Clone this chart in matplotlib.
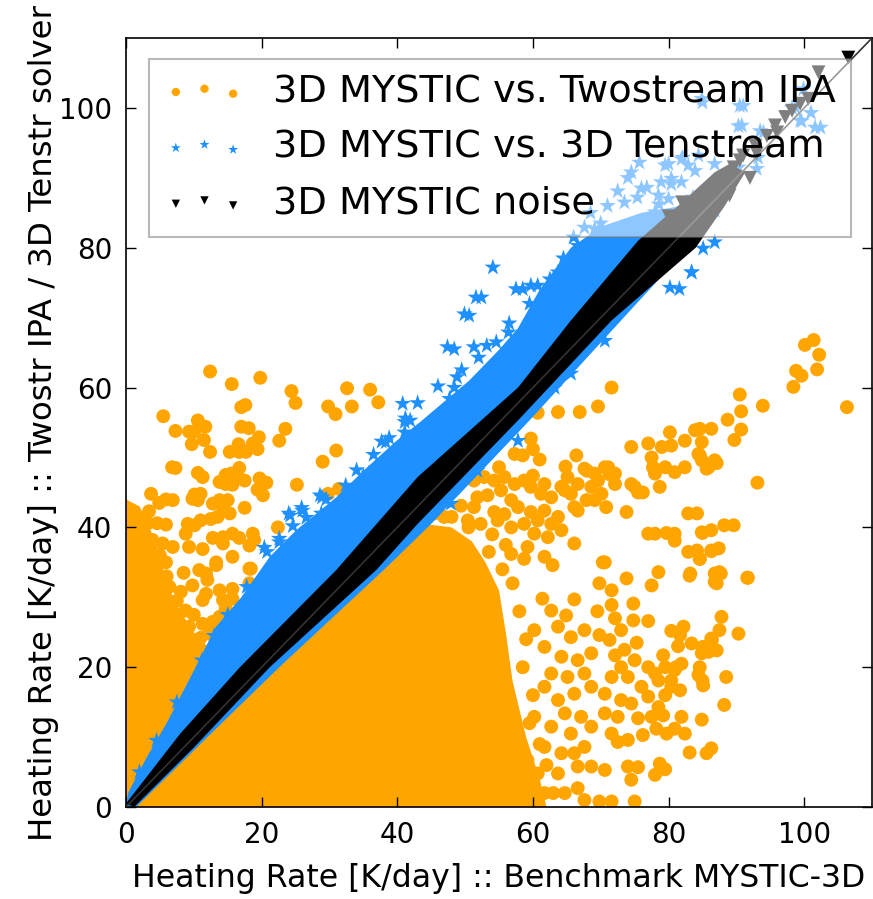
import numpy as np
import matplotlib
matplotlib.use("Agg")
import matplotlib.pyplot as plt

plt.rcParams['font.family'] = ['DejaVu Sans']

# --- data (K/day) ---

# orange: 3D MYSTIC vs. Twostream IPA, single points outside the saturated cores
orange_x = [12.4, 15.6, 19.8, 24.4, 25.0, 32.6, 36.0, 37.2, 29.8, 30.9, 33.3, 17.0, 17.6, 5.5, 10.6, 7.3,
            9.3, 10.1, 11.7, 17.0, 18.1, 23.5, 22.6, 19.6, 11.5, 9.7, 12.4, 15.3, 16.7, 17.7, 16.6, 18.7,
            19.4, 31.0, 29.0, 6.8, 7.3, 10.6, 11.3, 16.7, 14.7, 15.5, 13.8, 14.7, 15.7, 16.4, 17.5, 19.7,
            20.7, 19.4, 20.2, 25.2, 31.4, 29.8, 3.7, 10.1, 11.0, 9.8, 10.6, 5.9, 4.9, 6.9, 12.8, 14.3,
            13.8, 15.0, 15.3, 17.5, 3.4, 3.2, 4.6, 5.9, 9.1, 10.1, 11.0, 12.5, 13.5, 22.4, 8.8, 12.8,
            14.3, 15.7, 16.7, 18.7, 18.9, 2.4, 3.9, 5.4, 6.9, 9.3, 11.3, 14.3, 18.2, 15.7, 13.3, 18.4,
            3.9, 5.9, 10.8, 11.8, 13.3, 18.2, 9.8, 11.8, 13.8, 15.7, 18.2, 8.1, 6.4, 14.3, 15.7, 14.7,
            13.8, 11.3, 8.8, 6.9, 5.4, 9.3, 11.3, 12.3, 2.4, 1.4, 3.4, 1.9, 4.4, 2.9,
            4.5, 6.0, 7.5, 8.5, 10.0, 12.0, 7.0, 9.5, 11.0, 12.8, 5.0, 3.0, 1.5, 2.0, 4.0, 1.2,
            71.6, 69.6, 66.9, 63.7, 60.7, 59.7, 60.0, 61.0, 66.4, 64.8, 57.3, 58.5, 55.0, 67.6, 69.1, 71.1,
            72.1, 74.5, 77.0, 79.0, 80.4, 80.2, 82.4, 83.9, 84.6, 86.3, 84.9, 77.5, 77.7, 78.0, 79.5, 80.9,
            82.4, 84.4, 84.9, 85.9, 86.8, 75.0, 76.2, 78.7, 73.8, 77.0, 79.7, 80.9, 84.9, 82.9, 82.9, 84.6,
            86.3, 70.6, 66.1, 70.8, 66.6, 64.2, 65.1, 65.6, 66.6, 68.0, 68.6, 69.6, 70.1, 70.6, 71.3, 72.1,
            67.9, 69.1, 74.5, 75.5, 51.3, 52.8, 54.3, 55.8, 57.3, 58.7, 60.0, 61.7, 51.8, 53.3, 55.3, 56.8,
            59.7, 61.2, 62.7, 64.7, 49.4, 51.3, 54.3, 55.8, 57.8, 59.7, 61.7, 63.7, 66.1, 46.9, 50.4, 52.3,
            54.8, 56.8, 58.7, 60.7, 62.7, 64.2, 60.2, 62.2, 59.2, 56.8, 58.7, 61.7, 62.9,
            53.5, 55.5, 57.0, 58.0, 59.0, 58.5, 60.0, 59.5, 61.0, 62.0, 63.0, 54.0, 56.0, 45.5, 48.0, 50.5,
            101.4, 100.1, 102.2, 101.9, 98.8, 99.6, 98.4, 106.3, 93.9, 90.5, 90.7, 88.7, 90.7, 89.7, 84.6,
            87.1, 85.6, 93.1, 88.2, 85.0, 86.3, 84.6, 87.7, 87.1, 91.6,
            70.3, 73.8, 69.8, 71.6, 78.5, 77.5, 83.1, 86.8, 66.1, 61.4, 64.9, 69.5, 71.6, 72.1, 74.8, 74.8,
            77.0, 80.4, 82.2, 81.7, 86.3, 73.0, 75.3, 73.5, 69.8, 71.3, 79.2, 81.4, 83.4, 84.9, 85.9, 72.1,
            73.0, 75.0, 77.0, 78.0, 79.5, 80.9, 81.9, 84.4, 85.1, 71.6, 74.0, 76.0, 78.5, 80.4, 81.7, 70.6,
            73.0, 74.5, 77.0, 79.5, 78.5, 75.5, 77.5, 79.2, 81.9, 84.9, 72.5, 70.6, 71.6, 72.5, 74.0, 76.2,
            78.2, 79.7, 80.9, 82.4, 83.1, 85.6, 86.3, 74.0, 75.5, 74.5, 78.7, 79.5, 78.0, 67.6, 69.8, 71.6,
            75.0, 66.6, 68.6, 70.6, 66.1, 67.6,
            62.7, 63.7, 60.2, 65.6, 67.6, 68.6, 66.6, 64.2, 61.7, 62.7, 65.1, 67.6, 68.6, 66.1, 63.7, 61.7,
            64.7, 67.1, 68.6, 65.6, 62.7, 60.2, 61.7, 64.2, 66.6, 63.7, 60.7, 59.2, 61.7, 64.7,
            84.2, 86.3, 78.0, 80.9, 84.2, 87.4, 89.6, 88.2, 88.5, 90.3, 91.7, 87.5, 87.8, 86.4, 85.0, 87.1,
            86.8, 87.5, 83.2, 85.0, 84.6, 81.1, 80.4]
orange_y = [62.3, 60.5, 61.4, 59.5, 57.8, 59.9, 59.7, 57.9, 57.3, 56.2, 57.3, 57.2, 57.5, 55.9, 55.3, 53.8,
            53.7, 53.7, 54.4, 54.4, 54.2, 54.1, 52.4, 52.9, 52.5, 51.9, 50.8, 50.8, 50.8, 50.8, 51.9, 52.0,
            51.2, 51.0, 49.4, 48.6, 48.5, 47.8, 47.2, 48.5, 47.5, 47.7, 46.5, 46.2, 46.1, 47.1, 46.7, 47.0,
            46.4, 45.4, 44.6, 46.1, 45.5, 44.8, 44.8, 44.7, 44.8, 44.1, 43.9, 44.0, 43.5, 43.9, 43.4, 43.0,
            43.9, 43.9, 42.0, 42.8, 42.3, 40.6, 40.6, 40.4, 40.5, 40.3, 41.0, 41.2, 41.5, 40.0, 39.1, 38.5,
            38.6, 39.1, 38.5, 39.1, 38.2, 37.7, 38.2, 37.7, 37.2, 37.2, 36.9, 37.7, 37.4, 35.8, 35.0, 34.1,
            34.6, 35.0, 33.9, 33.4, 34.6, 34.1, 31.7, 30.5, 31.0, 31.2, 32.0, 30.8, 31.5, 29.6, 29.8, 28.4,
            27.2, 29.6, 28.1, 26.7, 28.6, 25.8, 26.2, 24.8, 32.4, 30.5, 29.1, 26.7, 25.3, 23.9,
            32.5, 33.0, 29.5, 33.5, 27.5, 32.5, 24.5, 23.8, 24.2, 26.5, 36.0, 35.0, 37.0, 34.5, 30.0, 40.5,
            60.0, 57.3, 56.5, 56.5, 56.4, 52.7, 51.2, 49.7, 50.3, 48.7, 50.5, 50.3, 48.6, 48.4, 47.7, 48.6,
            47.7, 51.5, 52.0, 51.5, 51.7, 53.6, 52.4, 53.9, 54.1, 54.1, 52.2, 50.0, 48.6, 47.7, 48.6, 47.9,
            48.6, 50.5, 49.6, 48.6, 49.6, 45.8, 45.0, 45.8, 42.2, 39.1, 39.2, 38.1, 39.3, 42.0, 36.5, 35.5,
            36.7, 35.0, 37.7, 42.9, 42.4, 45.8, 47.2, 44.8, 46.2, 48.1, 45.8, 46.7, 44.8, 48.6, 47.6, 46.2,
            43.9, 43.9, 46.2, 45.0, 46.7, 47.2, 46.7, 47.2, 46.2, 46.7, 47.4, 46.2, 44.3, 44.6, 45.3, 43.9,
            45.8, 44.8, 44.3, 45.3, 43.1, 42.9, 42.2, 41.9, 42.9, 42.2, 42.4, 41.5, 42.9, 41.5, 41.0, 40.5,
            41.0, 40.0, 40.5, 41.0, 40.5, 39.6, 39.1, 38.6, 37.2, 36.2, 35.5, 35.8, 34.6,
            36.5, 34.0, 32.0, 28.0, 24.0, 20.0, 16.0, 12.0, 9.0, 6.0, 2.0, 39.0, 37.5, 42.0, 41.5, 40.0,
            66.8, 66.1, 64.7, 62.6, 62.4, 61.7, 60.1, 57.2, 57.4, 59.0, 56.6, 55.4, 54.0, 52.5, 50.3,
            49.2, 48.4, 46.4, 40.3, 39.2, 36.6, 35.5, 33.4, 32.0, 32.8,
            35.0, 32.7, 32.0, 31.0, 33.6, 31.7, 33.1, 32.2, 29.7, 29.8, 27.4, 28.0, 28.9, 27.0, 29.1, 26.7,
            26.6, 25.2, 25.8, 24.6, 24.1, 25.3, 23.5, 22.5, 24.6, 23.9, 21.7, 23.0, 23.4, 22.0, 22.2, 21.7,
            20.0, 21.0, 20.0, 19.1, 20.0, 19.6, 20.5, 18.9, 17.4, 18.6, 18.6, 17.2, 18.1, 17.2, 16.7, 16.2,
            15.3, 14.8, 15.8, 16.0, 14.3, 12.7, 12.9, 13.1, 12.9, 12.5, 12.9, 13.4, 10.5, 9.3, 9.6, 10.3,
            11.2, 10.5, 11.2, 10.5, 7.8, 7.7, 8.4, 5.8, 5.7, 3.9, 6.2, 5.4, 4.6, 1.0, 0.8, 0.8,
            0.8, 2.7, 5.8, 5.3, 7.7, 8.6,
            28.1, 25.8, 25.3, 24.3, 25.3, 22.0, 21.0, 21.5, 22.9, 19.1, 18.6, 19.1, 17.2, 16.2, 15.3, 17.2,
            13.4, 12.9, 11.5, 10.5, 11.5, 12.9, 8.6, 7.7, 5.8, 4.8, 4.8, 6.7, 2.0, 2.0,
            42.0, 39.6, 39.1, 39.1, 36.7, 37.0, 40.3, 14.6, 18.6, 24.8, 32.8, 25.3, 27.2, 23.9, 22.9, 22.4,
            33.4, 33.6, 33.4, 18.1, 20.0, 20.0, 18.1]

# outlines of the saturated (fully covered) parts of the clouds
orange_core_a_x = [0.5, 38, 44, 48, 51, 53, 55, 56, 57, 59, 61, 62]
orange_core_a_y = [0, 38, 40.5, 40, 38, 35, 31, 25, 18, 10, 4, 0]
orange_core_b_x = [0, 0, 2, 3.5, 5, 6, 8, 10, 12, 4, 1]
orange_core_b_y = [0, 44, 43, 40, 36, 32, 28, 25, 23, 4, 0]

# blue: 3D MYSTIC vs. 3D Tenstream
blue_x = [40.8, 41.1, 41.1, 37.7, 35.0, 28.6, 25.9, 24.0, 28.8, 22.6, 20.4,
          52.4, 50.6, 58.5, 60.7, 48.4, 51.3, 52.0, 54.6, 56.4, 48.8, 48.4, 47.7, 41.9, 38.3, 35.8,
          28.9, 26.0, 24.2,
          54.1, 51.6, 49.9, 47.4, 57.5, 59.7, 63.7, 66.6, 67.6, 69.1, 72.5, 74.5, 75.7, 83.4, 80.2,
          70.6, 65.6, 63.2, 57.8, 51.8, 47.9, 81.6,
          84.9, 90.5, 98.7, 99.9, 101.6, 99.4, 90.8, 94.0, 93.0, 84.4, 82.9, 81.9, 79.5, 78.9, 80.4,
          78.5, 80.0, 81.9, 78.0, 79.5, 77.5, 80.9, 82.9, 86.8, 85.1, 83.4,
          85.0, 91.0, 90.3, 93.5, 98.2, 101.0, 102.4, 99.6, 80.0, 82.1, 83.9, 86.8, 90.3, 93.2, 75.4,
          76.8, 80.4, 74.0, 78.6, 83.6, 86.0, 86.8,
          20.8, 22.6, 24.6, 26.6, 29.5, 32.4, 34.0, 36.5, 38.8, 41.2, 43.0, 46.0, 49.5, 53.2, 56.5,
          59.5, 62.5, 64.5, 11.2, 13.0, 15.0, 17.8, 7.5, 4.5, 2.0,
          68.5, 71.0, 73.5, 76.0, 70.0, 66.0]
blue_y = [57.7, 55.1, 53.6, 52.3, 47.4, 44.6, 42.8, 42.0, 42.0, 37.9, 37.1,
          72.9, 70.3, 74.1, 74.6, 65.5, 65.8, 64.3, 66.5, 67.9, 61.5, 60.0, 58.4, 55.3, 52.2, 47.7,
          44.3, 42.4, 41.7,
          77.2, 72.9, 70.5, 65.8, 74.1, 74.6, 76.5, 80.3, 82.9, 82.7, 88.1, 90.8, 92.2, 76.5, 74.3,
          66.7, 62.0, 60.0, 52.4, 48.1, 43.4, 74.1,
          101.3, 100.3, 100.1, 102.7, 97.2, 98.2, 97.5, 96.5, 91.3, 93.2, 91.8, 92.7, 91.8, 89.4, 89.9,
          87.5, 87.0, 89.4, 85.1, 84.1, 83.2, 83.2, 85.1, 80.8, 79.9, 76.5,
          100.8, 100.3, 97.4, 96.7, 100.0, 99.3, 97.2, 98.1, 92.0, 92.9, 91.0, 92.0, 91.5, 92.9, 87.2,
          88.6, 89.1, 90.0, 86.2, 87.2, 88.1, 85.3,
          36.5, 38.4, 40.2, 41.4, 44.0, 46.0, 48.2, 50.4, 52.8, 55.6, 57.8, 60.2, 62.5, 66.0, 69.2,
          72.0, 75.5, 78.5, 21.0, 24.5, 27.5, 31.5, 15.0, 9.5, 5.0,
          85.0, 86.0, 86.5, 88.5, 83.5, 81.5]
blue_core_x = [0, 0.3, 3, 6, 10, 13.2, 17, 21.2, 25.1, 31, 35, 39.9, 43.4, 50.6, 54.9, 57.8, 61,
               65.6, 70, 76, 82, 86, 80, 73, 59.5, 45, 38, 22.6, 12, 1.5]
blue_core_y = [0, 2, 7, 12, 19.5, 25.7, 30, 35.8, 39.6, 44.3, 48.1, 52.4, 55.1, 61, 65.3, 68.5, 74,
               80, 83, 85, 86, 84, 77, 69.6, 55.3, 40.5, 33.9, 20, 10, 0]

# black: 3D MYSTIC noise
black_x = [106.5, 102.1, 100.6, 99.4, 98.2, 97.2, 95.7, 94.5, 92.8, 91.0, 89.6, 88.1, 86.8, 85.4,
           83.4, 90.5, 93.0, 96.0, 87.5, 84.0, 82.0, 89.0, 92.0, 80.0, 86.0]
black_y = [107.2, 105.1, 101.3, 100.6, 99.6, 98.7, 97.5, 96.0, 94.6, 93.2, 91.5, 89.9, 88.0, 86.0,
           84.1, 92.5, 93.5, 96.5, 87.0, 86.5, 86.5, 87.5, 90.0, 84.5, 84.0]
black_core_x = [0, 8, 16.8, 31, 43, 57.8, 65.6, 75.5, 81.4, 86.8, 89, 91.3, 88.3, 84, 71.6, 57.8,
                43, 36.9, 21.2, 10, 1.2]
black_core_y = [0.5, 10.5, 20, 33.9, 47.2, 60, 69.6, 81, 86, 90.8, 92, 90.8, 86, 80, 69.6, 55.3,
                40.5, 33.9, 20, 8.5, 0]

labels = ['3D MYSTIC vs. Twostream IPA', '3D MYSTIC vs. 3D Tenstream', '3D MYSTIC noise']
c_orange = 'orange'
c_blue = 'dodgerblue'
c_black = 'black'

fig = plt.figure(figsize=(8.73, 8.99), dpi=100)
ax = fig.add_axes([0.1443, 0.1023, 0.8546, 0.8554])

ax.fill(orange_core_a_x, orange_core_a_y, color=c_orange, lw=0, zorder=1)
ax.fill(orange_core_b_x, orange_core_b_y, color=c_orange, lw=0, zorder=1)
s1 = ax.scatter(orange_x, orange_y, s=100, marker='o', c=c_orange, edgecolors='none', zorder=1)

ax.fill(blue_core_x, blue_core_y, color=c_blue, lw=0, zorder=2)
s2 = ax.scatter(blue_x, blue_y, s=160, marker='*', c=c_blue, edgecolors='none', zorder=2)

ax.fill(black_core_x, black_core_y, color=c_black, lw=0, zorder=3)
s3 = ax.scatter(black_x, black_y, s=100, marker='v', c=c_black, edgecolors='none', zorder=3)

ax.plot([0, 110], [0, 110], color='0.2', lw=1.2, zorder=4)

ax.set_xlim(0, 110)
ax.set_ylim(0, 110)
ax.set_xticks([0, 20, 40, 60, 80, 100])
ax.set_yticks([0, 20, 40, 60, 80, 100])
ax.tick_params(direction='in', length=7, width=1, top=True, right=True, labelsize=20, pad=10)
for sp in ax.spines.values():
    sp.set_linewidth(1.2)

ax.set_xlabel('Heating Rate [K/day] :: Benchmark MYSTIC-3D', fontsize=22.7, labelpad=10)
ax.set_ylabel('Heating Rate [K/day] :: Twostr IPA / 3D Tenstr solver', fontsize=23.3, labelpad=0)

leg = ax.legend([s1, s2, s3], labels, loc='upper left', bbox_to_anchor=(0.031, 0.973),
                borderaxespad=0, fontsize=27.5, scatterpoints=3,
                scatteryoffsets=[0.375, 0.5, 0.3125], markerscale=0.6, handlelength=2.1,
                handletextpad=0.75, labelspacing=0.52, borderpad=0.4, framealpha=0.5,
                fancybox=False, edgecolor='0.45')
leg.get_frame().set_linewidth(1.5)
leg.set_zorder(5)

fig.savefig('out.png', dpi=100)
